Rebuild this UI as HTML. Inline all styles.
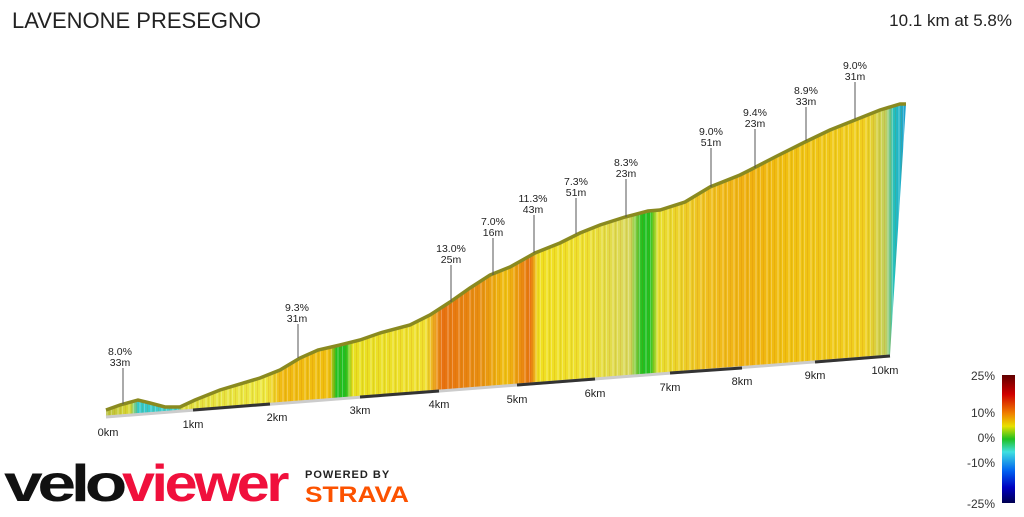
<!DOCTYPE html>
<html><head><meta charset="utf-8"><style>
body{margin:0;width:1024px;height:512px;background:#fff;overflow:hidden;font-family:"Liberation Sans",sans-serif}
</style></head><body>
<svg width="1024" height="512" viewBox="0 0 1024 512" xmlns="http://www.w3.org/2000/svg">
<defs>
<linearGradient id="g" x1="106" y1="0" x2="906" y2="0" gradientUnits="userSpaceOnUse">
<stop offset="0" stop-color="#b8c040"/>
<stop offset="0.03" stop-color="#d8d830"/>
<stop offset="0.04" stop-color="#30c8c8"/>
<stop offset="0.09" stop-color="#40d0d0"/>
<stop offset="0.095" stop-color="#e0e040"/>
<stop offset="0.2" stop-color="#eee840"/>
<stop offset="0.22" stop-color="#f0b810"/>
<stop offset="0.28" stop-color="#f0c010"/>
<stop offset="0.288" stop-color="#20c020"/>
<stop offset="0.3" stop-color="#20c020"/>
<stop offset="0.308" stop-color="#e8e020"/>
<stop offset="0.4" stop-color="#f0e030"/>
<stop offset="0.42" stop-color="#e87010"/>
<stop offset="0.47" stop-color="#e89010"/>
<stop offset="0.5" stop-color="#f0c010"/>
<stop offset="0.53" stop-color="#e87010"/>
<stop offset="0.54" stop-color="#f0e020"/>
<stop offset="0.6" stop-color="#eee030"/>
<stop offset="0.655" stop-color="#d8d860"/>
<stop offset="0.67" stop-color="#20c020"/>
<stop offset="0.68" stop-color="#20c020"/>
<stop offset="0.69" stop-color="#e8e030"/>
<stop offset="0.75" stop-color="#f0c020"/>
<stop offset="0.8" stop-color="#f0b010"/>
<stop offset="0.85" stop-color="#f0c010"/>
<stop offset="0.95" stop-color="#f0d020"/>
<stop offset="0.975" stop-color="#c0d060"/>
<stop offset="0.985" stop-color="#20c0c0"/>
<stop offset="1" stop-color="#20a0d0"/>
</linearGradient>
<pattern id="st" x="0" y="0" width="11" height="10" patternUnits="userSpaceOnUse">
<rect x="1" y="0" width="1" height="10" fill="#fff" opacity="0.25"/>
<rect x="4" y="0" width="1" height="10" fill="#c06000" opacity="0.15"/>
<rect x="7" y="0" width="2" height="10" fill="#fff" opacity="0.18"/>
<rect x="10" y="0" width="1" height="10" fill="#a08000" opacity="0.15"/>
</pattern>
<linearGradient id="lg" x1="0" y1="0" x2="0" y2="1">
<stop offset="0" stop-color="#600000"/><stop offset="0.15" stop-color="#d00000"/><stop offset="0.3" stop-color="#f08000"/><stop offset="0.4" stop-color="#e8e000"/><stop offset="0.5" stop-color="#20c020"/><stop offset="0.6" stop-color="#40e0e0"/><stop offset="0.75" stop-color="#0060f0"/><stop offset="0.88" stop-color="#0000c0"/><stop offset="1" stop-color="#000050"/>
</linearGradient>
</defs>
<text x="12" y="28" font-size="22" fill="#222">LAVENONE PRESEGNO</text>
<text x="1012" y="26" font-size="17" fill="#222" text-anchor="end">10.1 km at 5.8%</text>
<g>
<polygon id="p" fill="url(#g)" points="106,410 120,405 138,400 150,403 165,407 180,407 195,400 220,390 260,378 280,370 300,358 318,350 340,345 360,340 380,333 410,325 430,315 450,302 470,288 490,275 510,267 535,253 560,243 580,233 600,225 625,217 648,211 660,210 685,202 710,187 740,175 750,170 775,157 805,142 830,130 855,120 880,110 900,104 906,104 890,355 106,416"/>
<polygon fill="url(#st)" points="106,410 120,405 138,400 150,403 165,407 180,407 195,400 220,390 260,378 280,370 300,358 318,350 340,345 360,340 380,333 410,325 430,315 450,302 470,288 490,275 510,267 535,253 560,243 580,233 600,225 625,217 648,211 660,210 685,202 710,187 740,175 750,170 775,157 805,142 830,130 855,120 880,110 900,104 906,104 890,355 106,416"/>
</g>
<polyline fill="none" stroke="#8a8a20" stroke-width="3.5" points="106,410 120,405 138,400 150,403 165,407 180,407 195,400 220,390 260,378 280,370 300,358 318,350 340,345 360,340 380,333 410,325 430,315 450,302 470,288 490,275 510,267 535,253 560,243 580,233 600,225 625,217 648,211 660,210 685,202 710,187 740,175 750,170 775,157 805,142 830,130 855,120 880,110 900,104 906,104"/>
<line x1="106" y1="417" x2="890" y2="356" stroke="#ccc" stroke-width="3"/>
<g stroke="#333" stroke-width="3">
<line x1="193" y1="410" x2="270" y2="404"/><line x1="360" y1="397" x2="439" y2="391"/><line x1="517" y1="385" x2="595" y2="379"/><line x1="670" y1="373" x2="742" y2="368"/><line x1="815" y1="362" x2="890" y2="356"/>
</g>
<g font-size="11" fill="#222" text-anchor="middle">
<text x="108" y="436">0km</text><text x="193" y="428">1km</text><text x="277" y="421">2km</text><text x="360" y="414">3km</text><text x="439" y="408">4km</text><text x="517" y="403">5km</text><text x="595" y="397">6km</text><text x="670" y="391">7km</text><text x="742" y="385">8km</text><text x="815" y="379">9km</text><text x="885" y="374">10km</text>
</g>
<g font-size="10.5" fill="#222" text-anchor="middle" stroke-width="1">
<g><text x="120" y="355">8.0%</text><text x="120" y="366">33m</text><line x1="123" y1="368" x2="123" y2="404" stroke="#555"/></g>
<g><text x="297" y="311">9.3%</text><text x="297" y="322">31m</text><line x1="298" y1="324" x2="298" y2="358" stroke="#555"/></g>
<g><text x="451" y="252">13.0%</text><text x="451" y="263">25m</text><line x1="451" y1="265" x2="451" y2="302" stroke="#555"/></g>
<g><text x="493" y="225">7.0%</text><text x="493" y="236">16m</text><line x1="493" y1="238" x2="493" y2="275" stroke="#555"/></g>
<g><text x="533" y="202">11.3%</text><text x="533" y="213">43m</text><line x1="534" y1="215" x2="534" y2="253" stroke="#555"/></g>
<g><text x="576" y="185">7.3%</text><text x="576" y="196">51m</text><line x1="576" y1="198" x2="576" y2="234" stroke="#555"/></g>
<g><text x="626" y="166">8.3%</text><text x="626" y="177">23m</text><line x1="626" y1="179" x2="626" y2="217" stroke="#555"/></g>
<g><text x="711" y="135">9.0%</text><text x="711" y="146">51m</text><line x1="711" y1="148" x2="711" y2="187" stroke="#555"/></g>
<g><text x="755" y="116">9.4%</text><text x="755" y="127">23m</text><line x1="755" y1="129" x2="755" y2="168" stroke="#555"/></g>
<g><text x="806" y="94">8.9%</text><text x="806" y="105">33m</text><line x1="806" y1="107" x2="806" y2="141" stroke="#555"/></g>
<g><text x="855" y="69">9.0%</text><text x="855" y="80">31m</text><line x1="855" y1="82" x2="855" y2="119" stroke="#555"/></g>
</g>
<rect x="1002" y="375" width="13" height="128" fill="url(#lg)"/>
<g font-size="12" fill="#333" text-anchor="end">
<text x="995" y="380">25%</text><text x="995" y="417">10%</text><text x="995" y="442">0%</text><text x="995" y="467">-10%</text><text x="995" y="508">-25%</text>
</g>
<text x="4" y="501" font-size="52" font-weight="bold" letter-spacing="-4" fill="#111" textLength="118" lengthAdjust="spacingAndGlyphs">velo</text>
<text x="122" y="501" font-size="52" font-weight="bold" letter-spacing="-3" fill="#f0103c" textLength="164" lengthAdjust="spacingAndGlyphs">viewer</text>
<text x="305" y="478" font-size="11" font-weight="bold" fill="#222" letter-spacing="1">POWERED BY</text>
<text x="305" y="502" font-size="22" font-weight="bold" fill="#fc5200" textLength="104" lengthAdjust="spacingAndGlyphs">STRAVA</text>
</svg>
</body></html>
